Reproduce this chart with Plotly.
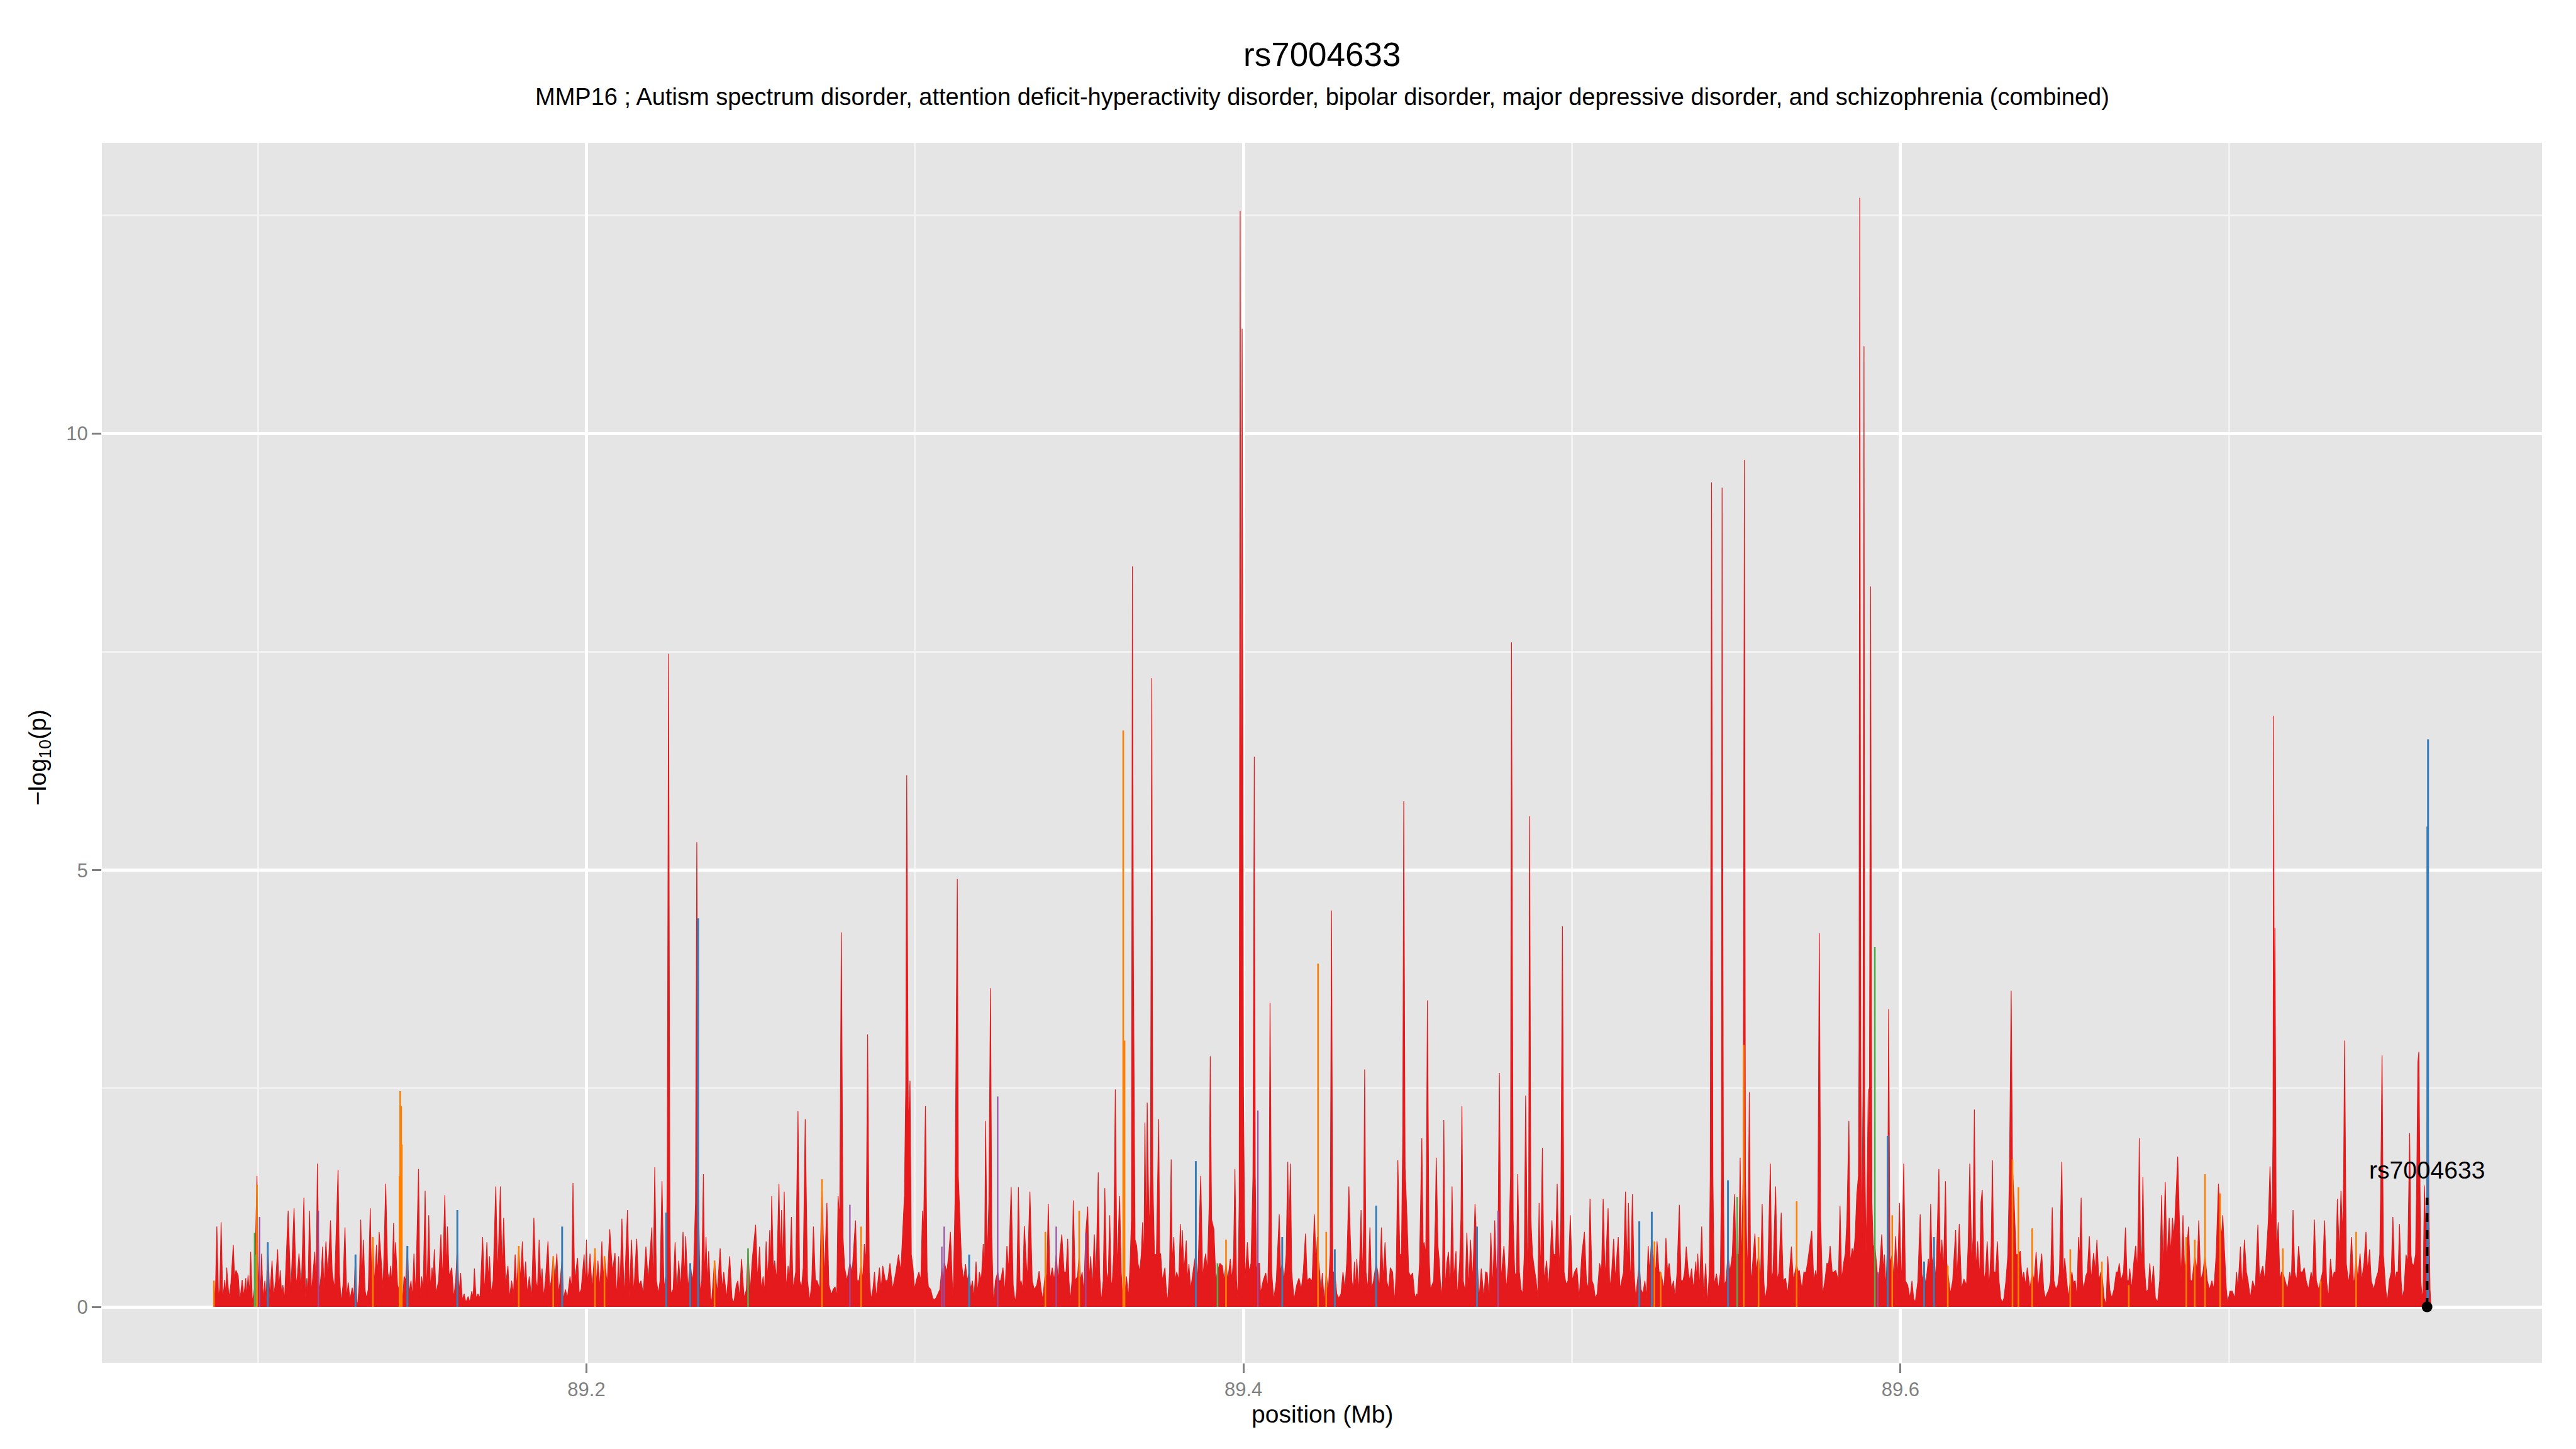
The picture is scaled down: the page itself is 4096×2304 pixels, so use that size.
import plotly.graph_objects as go

# ---------------- data ----------------
TITLE = "rs7004633"
SUBTITLE = ("MMP16 ; Autism spectrum disorder, attention deficit-hyperactivity disorder, "
            "bipolar disorder, major depressive disorder, and schizophrenia (combined)")
X_TICKS = [89.2, 89.4, 89.6]
X_TICK_LABELS = ["89.2", "89.4", "89.6"]
Y_TICKS = [0, 5, 10]
Y_TICK_LABELS = ["0", "5", "10"]

# main (red) track: (position Mb, -log10 p)
red_a = [(89.0866,0.30),(89.0870,0.05),(89.0875,0.92),(89.0880,0.10),(89.0884,0.22),(89.0888,0.97),
(89.0893,0.08),(89.0899,0.31),(89.0902,0.12),(89.0905,0.45),(89.0912,0.10),(89.0918,0.28),(89.0925,0.71),
(89.0929,0.32),(89.0933,0.42),(89.0940,0.36),(89.0945,0.06),(89.0952,0.31),(89.0957,0.12),(89.0963,0.33),
(89.0966,0.12),(89.0970,0.36),(89.0974,0.15),(89.0978,0.63),(89.0983,0.05),(89.0990,0.22),(89.0997,1.50),
(89.1001,0.18),(89.1005,0.55),(89.1008,0.12),(89.1011,0.61),(89.1016,0.08),(89.1021,0.30),(89.1025,0.08),
(89.1030,0.74),(89.1036,0.10),(89.1043,0.53),(89.1048,0.12),(89.1054,0.30),(89.1060,0.66),(89.1064,0.20),
(89.1068,0.42),(89.1072,0.15),(89.1076,0.25),(89.1081,0.08),(89.1092,1.10),(89.1100,0.15),(89.1110,1.13),
(89.1116,0.25),(89.1120,0.35),(89.1125,0.61),(89.1132,0.20),(89.1140,1.25),(89.1145,0.10),(89.1149,0.33),
(89.1152,0.10),(89.1157,1.10),(89.1163,0.15),(89.1168,0.40),(89.1173,0.63),(89.1177,0.20),(89.1181,1.64),
(89.1187,0.15),(89.1193,0.40),(89.1197,0.69),(89.1201,0.20),(89.1207,0.75),(89.1213,0.35),(89.1221,0.99),
(89.1226,0.40),(89.1233,0.20),(89.1238,0.80),(89.1244,1.57),(89.1248,0.40),(89.1253,0.05),(89.1259,0.25),
(89.1265,0.91),(89.1270,0.10),(89.1275,0.28),(89.1280,0.08),(89.1287,0.22),(89.1292,0.10),(89.1297,0.60),
(89.1301,0.05),(89.1304,0.04),(89.1309,0.30),(89.1313,1.00),(89.1317,0.30),(89.1321,0.77),(89.1326,0.20),
(89.1330,0.10),(89.1336,0.20),(89.1342,1.13),(89.1346,0.30),(89.1350,0.80),(89.1355,0.25),(89.1361,0.71),
(89.1365,0.35),(89.1369,0.86),(89.1375,0.55),(89.1381,0.20),(89.1389,1.41),(89.1395,0.40),(89.1400,0.30),
(89.1404,0.47),(89.1408,0.25),(89.1413,0.96),(89.1416,0.45),(89.1419,0.74),(89.1425,0.25),(89.1429,0.20),
(89.1433,0.10),(89.1440,0.05),(89.1445,0.35),(89.1450,0.30),(89.1455,0.70),(89.1460,0.15),(89.1466,0.30),
(89.1470,0.10),(89.1475,0.61),(89.1480,0.12),(89.1489,1.58),(89.1493,0.10),(89.1498,0.35),(89.1503,0.20),
(89.1509,1.33),(89.1514,0.10),(89.1520,1.05),(89.1525,0.20),(89.1530,0.45),(89.1533,0.30),(89.1537,0.66),
(89.1542,0.15),(89.1550,0.30),(89.1557,0.83),(89.1562,0.30),(89.1569,1.28),(89.1573,0.40),(89.1577,0.92),
(89.1582,0.35),(89.1590,0.45),(89.1596,0.10),(89.1602,0.30),(89.1607,0.70),(89.1612,0.15),(89.1617,0.39),
(89.1622,0.08),(89.1628,0.15),(89.1633,0.05),(89.1640,0.12),(89.1645,0.05),(89.1651,0.18),(89.1655,0.10),
(89.1659,0.44),(89.1664,0.10),(89.1670,0.15),(89.1676,0.10),(89.1684,0.80),(89.1690,0.15),(89.1697,0.74),
(89.1701,0.30),(89.1705,0.58),(89.1710,0.15),(89.1716,0.30),(89.1724,1.38),(89.1730,0.35),(89.1738,1.38),
(89.1743,0.40),(89.1748,1.02),(89.1754,0.25),(89.1761,0.47),(89.1766,0.10),(89.1772,0.30),(89.1778,0.15),
(89.1783,0.60),(89.1788,0.20),(89.1794,0.70),(89.1799,0.30),(89.1805,0.75),(89.1810,0.25),(89.1815,0.52),
(89.1820,0.15),(89.1826,0.35),(89.1833,0.10),(89.1840,1.02),(89.1846,0.30),(89.1851,0.20),(89.1856,0.77),
(89.1861,0.25),(89.1865,0.44),(89.1870,0.10),(89.1876,0.35),(89.1883,0.75),(89.1888,0.20),(89.1893,0.30),
(89.1899,0.58),(89.1904,0.30),(89.1910,0.61),(89.1915,0.15),(89.1920,0.30),(89.1926,0.55),(89.1930,0.08),
(89.1936,0.20),(89.1942,0.10),(89.1950,0.35),(89.1955,0.20),(89.1959,1.42),(89.1964,0.30)]

red_b = [(89.1973,0.56),(89.1978,0.15),(89.1984,0.20),(89.1993,0.60),(89.1996,0.20),(89.2000,0.77),
(89.2004,0.25),(89.2011,0.61),(89.2017,0.20),(89.2026,0.67),(89.2031,0.25),(89.2035,0.53),(89.2041,0.20),
(89.2047,0.75),(89.2051,0.30),(89.2055,0.58),(89.2063,0.25),(89.2071,0.89),(89.2079,0.40),(89.2087,0.62),
(89.2092,0.10),(89.2098,0.58),(89.2102,0.20),(89.2108,1.01),(89.2115,0.10),(89.2125,1.11),(89.2131,0.10),
(89.2137,0.77),(89.2144,0.15),(89.2153,0.78),(89.2159,0.25),(89.2166,0.30),(89.2173,0.15),(89.2181,0.69),
(89.2188,0.30),(89.2199,0.91),(89.2203,0.20),(89.2208,1.60),(89.2213,0.30),(89.2219,0.15),(89.2224,0.30),
(89.2230,1.44),(89.2236,0.20),(89.2243,0.40),(89.2246,1.50),(89.2250,7.48),(89.2254,1.00),(89.2257,0.15),
(89.2264,0.20),(89.2270,0.74),(89.2275,0.15),(89.2281,0.53),(89.2287,0.20),(89.2294,0.86),(89.2299,0.30),
(89.2302,0.81),(89.2309,0.20),(89.2316,0.50),(89.2322,0.30),(89.2326,0.40),(89.2332,1.20),(89.2336,5.32),
(89.2340,1.50),(89.2346,0.15),(89.2351,0.30),(89.2356,1.52),(89.2360,0.30),(89.2364,0.80),(89.2368,0.25),
(89.2372,0.64),(89.2378,0.10),(89.2381,0.05),(89.2386,0.30),(89.2390,0.53),(89.2398,0.15),(89.2407,0.67),
(89.2413,0.20),(89.2418,0.40),(89.2427,0.10),(89.2436,0.58),(89.2443,0.10),(89.2449,0.05),(89.2456,0.25),
(89.2461,0.30),(89.2466,0.10),(89.2472,0.55),(89.2480,0.10),(89.2487,0.20),(89.2492,0.67),(89.2498,0.15),
(89.2505,0.55),(89.2515,0.94),(89.2521,0.30),(89.2527,0.69),(89.2532,0.20),(89.2538,0.35),(89.2542,0.15),
(89.2547,0.75),(89.2552,0.30),(89.2558,0.88),(89.2561,0.40),(89.2564,1.27),(89.2569,0.40),(89.2573,0.53),
(89.2579,0.30),(89.2586,1.41),(89.2590,0.50),(89.2594,1.11),(89.2598,0.45),(89.2602,1.32),(89.2608,0.20),
(89.2614,0.47),(89.2618,0.30),(89.2624,1.03),(89.2629,0.20),(89.2637,0.40),(89.2644,2.24),(89.2649,0.30),
(89.2655,0.23),(89.2660,0.45),(89.2666,2.15),(89.2673,0.30),(89.2680,0.06),(89.2686,0.30),(89.2691,0.92),
(89.2697,0.30),(89.2702,0.30),(89.2710,0.20),(89.2717,1.46),(89.2724,0.30),(89.2732,1.19),(89.2738,0.25),
(89.2746,0.14),(89.2751,0.20),(89.2757,0.23),(89.2762,0.10),(89.2766,1.27),(89.2771,1.00),(89.2776,4.29),
(89.2781,0.80),(89.2786,0.45),(89.2793,0.30),(89.2802,0.50),(89.2809,0.40),(89.2819,0.99),(89.2824,0.30),
(89.2830,0.30),(89.2836,0.50),(89.2841,0.30),(89.2846,0.72),(89.2851,0.50),(89.2856,3.12),(89.2861,0.40),
(89.2866,0.08),(89.2872,0.20),(89.2877,0.40),(89.2882,0.10),(89.2888,0.30),(89.2892,0.45),(89.2897,0.20),
(89.2902,0.47),(89.2910,0.30),(89.2917,0.30),(89.2924,0.50),(89.2932,0.20),(89.2942,0.40),(89.2950,0.60),
(89.2957,0.40),(89.2968,1.27),(89.2972,2.50),(89.2975,6.09),(89.2980,2.00),(89.2985,2.59),(89.2989,0.60),
(89.2994,0.45),(89.2999,0.20),(89.3004,0.30),(89.3012,0.40),(89.3018,0.30),(89.3023,1.10),(89.3026,0.80),
(89.3032,2.30),(89.3037,0.40),(89.3041,0.23),(89.3048,0.20),(89.3054,0.10),(89.3059,0.08),(89.3064,0.10),
(89.3070,0.15),(89.3076,0.20),(89.3082,0.45),(89.3085,0.30),(89.3089,0.50)]

red_c = [(89.3090,0.50),(89.3097,0.40),(89.3103,0.60),(89.3108,0.86),(89.3112,0.40),(89.3116,0.05),
(89.3122,1.20),(89.3126,3.50),(89.3129,4.90),(89.3132,1.50),(89.3138,0.95),(89.3142,0.50),(89.3148,0.30),
(89.3154,0.49),(89.3159,0.30),(89.3165,0.40),(89.3170,0.20),(89.3175,0.30),(89.3180,0.10),(89.3186,0.52),
(89.3191,0.15),(89.3196,0.40),(89.3202,0.30),(89.3208,0.72),(89.3212,0.40),(89.3215,2.13),(89.3220,0.50),
(89.3225,1.20),(89.3230,3.65),(89.3234,0.80),(89.3239,0.02),(89.3245,0.30),(89.3252,0.40),(89.3256,0.30),
(89.3261,0.30),(89.3268,0.45),(89.3274,0.15),(89.3280,0.70),(89.3285,0.40),(89.3293,1.37),(89.3299,0.25),
(89.3305,0.05),(89.3310,0.20),(89.3315,1.37),(89.3320,0.25),(89.3323,0.30),(89.3328,0.20),(89.3333,0.93),
(89.3342,0.30),(89.3350,1.32),(89.3357,0.30),(89.3363,0.20),(89.3371,0.25),(89.3378,0.41),(89.3384,0.20),
(89.3389,0.08),(89.3397,0.40),(89.3401,0.30),(89.3406,1.18),(89.3411,0.30),(89.3418,0.45),(89.3424,0.30),
(89.3430,0.60),(89.3436,0.30),(89.3441,0.60),(89.3447,0.83),(89.3454,0.40),(89.3460,0.40),(89.3465,0.78),
(89.3469,0.30),(89.3473,0.06),(89.3478,0.30),(89.3482,1.22),(89.3488,0.30),(89.3495,0.35),(89.3500,0.60),
(89.3504,0.30),(89.3509,0.40),(89.3514,0.15),(89.3520,0.85),(89.3526,1.15),(89.3530,0.30),(89.3535,0.58),
(89.3540,0.20),(89.3546,0.83),(89.3551,0.30),(89.3558,1.54),(89.3562,0.40),(89.3567,0.05),(89.3573,0.30),
(89.3578,1.36),(89.3583,0.40),(89.3588,0.30),(89.3593,1.05),(89.3597,0.30),(89.3600,0.23),(89.3605,0.60),
(89.3610,2.49),(89.3615,0.40),(89.3623,1.27),(89.3628,0.40),(89.3632,0.10),(89.3634,0.10),(89.3638,0.10),
(89.3644,0.35),(89.3650,0.10),(89.3655,0.50),(89.3659,1.00),(89.3662,8.48),(89.3665,3.96),(89.3670,0.77),
(89.3675,0.70),(89.3679,0.50),(89.3684,0.40),(89.3689,0.60),(89.3693,0.97),(89.3697,0.50),(89.3700,2.11),
(89.3704,0.60),(89.3707,2.34),(89.3713,0.80),(89.3717,1.50),(89.3721,7.20),(89.3724,1.50),(89.3729,0.60),
(89.3735,0.60),(89.3742,2.15),(89.3745,0.60),(89.3748,0.61),(89.3753,0.30),(89.3761,0.45),(89.3765,0.20),
(89.3769,0.05),(89.3775,0.40),(89.3780,1.69),(89.3783,0.50),(89.3788,0.80),(89.3792,0.30),(89.3797,0.40),
(89.3803,0.30),(89.3808,0.95),(89.3812,0.50),(89.3814,0.88),(89.3819,0.40),(89.3826,0.76),(89.3830,0.30),
(89.3834,0.49),(89.3839,0.20),(89.3843,0.30),(89.3850,0.50),(89.3855,0.60),(89.3861,0.30),(89.3866,1.00),
(89.3870,1.50),(89.3876,0.30),(89.3880,0.50),(89.3885,0.61),(89.3890,0.40),(89.3896,1.20),(89.3899,2.87),
(89.3903,1.00),(89.3910,0.89),(89.3916,0.30),(89.3921,0.40),(89.3928,0.50),(89.3936,0.47),(89.3941,0.30),
(89.3947,0.50),(89.3952,0.30),(89.3960,0.55),(89.3965,0.30),(89.3970,0.60),(89.3974,1.58),(89.3979,0.30),
(89.3983,0.08),(89.3987,1.20),(89.3990,12.55),(89.3993,3.00),(89.3996,11.20),(89.4000,2.50),(89.4005,0.30),
(89.4012,0.74),(89.4017,0.40),(89.4023,0.50),(89.4029,1.50),(89.4033,6.30),(89.4036,1.50),(89.4040,0.40),
(89.4044,0.50),(89.4049,0.50),(89.4052,0.15),(89.4060,0.30),(89.4068,0.39),(89.4074,0.20),(89.4078,1.00),
(89.4081,3.48),(89.4086,0.40),(89.4092,0.08),(89.4100,0.30),(89.4109,1.06),(89.4113,0.40),(89.4118,0.50),
(89.4124,0.30),(89.4130,0.60),(89.4135,1.66),(89.4138,0.70),(89.4143,1.64),(89.4147,0.40),(89.4154,0.08),
(89.4162,0.25),(89.4169,0.33),(89.4176,0.20),(89.4182,0.40),(89.4189,0.84),(89.4194,0.30),(89.4201,0.33),
(89.4209,0.30),(89.4216,1.06),(89.4221,0.50),(89.4225,0.80)]

red_d = [(89.4227,0.60),(89.4232,0.40),(89.4236,0.15),(89.4240,0.39),(89.4246,0.05),(89.4252,0.40),
(89.4258,0.15),(89.4264,0.60),(89.4268,4.54),(89.4272,0.40),(89.4278,0.40),(89.4284,0.15),(89.4290,0.10),
(89.4297,0.15),(89.4303,0.40),(89.4309,0.20),(89.4315,0.55),(89.4321,1.38),(89.4325,0.83),(89.4330,0.30),
(89.4334,0.20),(89.4338,0.52),(89.4342,0.20),(89.4345,0.55),(89.4351,0.15),(89.4358,1.11),(89.4363,0.30),
(89.4366,1.00),(89.4369,2.72),(89.4373,0.40),(89.4379,0.20),(89.4385,0.91),(89.4390,0.20),(89.4396,0.30),
(89.4404,0.50),(89.4409,0.40),(89.4414,0.20),(89.4420,0.91),(89.4425,0.30),(89.4431,0.74),(89.4436,0.30),
(89.4442,0.20),(89.4447,0.45),(89.4454,0.40),(89.4460,0.05),(89.4465,0.40),(89.4470,1.68),(89.4476,0.60),
(89.4481,0.60),(89.4485,2.00),(89.4488,5.79),(89.4492,1.60),(89.4498,1.00),(89.4503,0.40),(89.4509,0.35),
(89.4515,0.39),(89.4522,0.10),(89.4527,0.15),(89.4530,0.12),(89.4536,0.50),(89.4543,1.93),(89.4547,0.70),
(89.4550,0.74),(89.4555,0.60),(89.4557,1.50),(89.4560,3.51),(89.4565,0.60),(89.4569,0.20),(89.4574,0.25),
(89.4579,0.30),(89.4584,1.00),(89.4587,1.71),(89.4592,0.70),(89.4596,0.53),(89.4602,0.10),(89.4606,0.30),
(89.4610,2.14),(89.4614,0.20),(89.4619,0.50),(89.4624,0.63),(89.4630,0.20),(89.4635,1.38),(89.4640,0.30),
(89.4647,0.64),(89.4651,0.10),(89.4658,0.50),(89.4662,1.00),(89.4665,2.30),(89.4669,0.30),(89.4675,0.17),
(89.4680,0.85),(89.4686,0.20),(89.4691,0.77),(89.4698,0.30),(89.4705,1.18),(89.4708,0.80),(89.4711,0.60),
(89.4717,0.08),(89.4724,0.44),(89.4732,0.10),(89.4737,0.40),(89.4742,0.39),(89.4748,0.10),(89.4753,0.85),
(89.4759,0.20),(89.4765,0.99),(89.4770,0.30),(89.4775,0.80),(89.4779,2.68),(89.4784,0.30),(89.4793,0.70),
(89.4800,0.20),(89.4807,0.50),(89.4813,1.50),(89.4816,7.61),(89.4821,1.00),(89.4826,0.35),(89.4831,0.40),
(89.4835,1.52),(89.4840,0.40),(89.4845,0.20),(89.4850,0.15),(89.4855,0.60),(89.4859,2.42),(89.4865,0.40),
(89.4868,0.80),(89.4871,5.62),(89.4875,1.00),(89.4880,0.60),(89.4884,0.48),(89.4891,0.30),(89.4896,0.10),
(89.4900,1.19),(89.4904,0.30),(89.4910,1.82),(89.4915,0.30),(89.4923,0.53),(89.4928,0.20),(89.4933,0.50),
(89.4939,0.99),(89.4944,0.60),(89.4950,0.60),(89.4955,1.41),(89.4961,0.40),(89.4966,1.00),(89.4971,4.36),
(89.4976,0.40),(89.4982,0.26),(89.4988,0.30),(89.4995,1.05),(89.5001,0.30),(89.5008,0.40),(89.5015,0.45),
(89.5022,0.10),(89.5030,0.60),(89.5038,0.86),(89.5044,0.30),(89.5050,0.20),(89.5055,1.24),(89.5061,0.30),
(89.5066,0.25),(89.5071,0.10),(89.5077,0.15),(89.5084,0.50),(89.5090,0.40),(89.5095,1.24),(89.5101,0.30),
(89.5105,0.70),(89.5110,1.13),(89.5115,0.20),(89.5121,0.40),(89.5127,0.78),(89.5132,0.30),(89.5137,0.60),
(89.5141,0.80),(89.5146,0.20),(89.5152,0.30),(89.5157,0.40),(89.5163,1.32),(89.5168,0.40),(89.5172,1.19),
(89.5178,0.20),(89.5184,1.29),(89.5189,0.40),(89.5194,0.10),(89.5199,0.30),(89.5205,0.50),(89.5210,0.20),
(89.5216,0.15),(89.5222,0.30),(89.5227,0.10),(89.5232,0.70),(89.5236,0.40),(89.5243,0.80),(89.5246,0.60),
(89.5251,0.50),(89.5255,0.40),(89.5259,0.75),(89.5265,0.40),(89.5270,0.40),(89.5275,0.30),(89.5281,0.20),
(89.5286,0.79),(89.5291,0.40),(89.5296,0.50),(89.5303,0.20),(89.5309,0.30),(89.5314,0.10),(89.5320,0.40),
(89.5327,1.17),(89.5332,0.30),(89.5338,0.30),(89.5343,0.40),(89.5348,0.69),(89.5354,0.40)]

red_e = [(89.5359,0.30),(89.5364,0.44),(89.5370,0.20),(89.5377,0.52),(89.5380,0.30),(89.5383,0.61),
(89.5388,0.20),(89.5395,0.92),(89.5401,0.10),(89.5407,0.50),(89.5413,0.02),(89.5418,0.40),(89.5421,1.50),
(89.5425,9.44),(89.5429,1.50),(89.5433,0.25),(89.5440,0.38),(89.5446,0.20),(89.5452,0.40),(89.5455,1.50),
(89.5457,9.38),(89.5461,1.50),(89.5464,0.25),(89.5469,0.30),(89.5475,0.60),(89.5481,0.40),(89.5488,0.60),
(89.5495,1.29),(89.5499,0.60),(89.5503,0.60),(89.5508,0.60),(89.5512,1.71),(89.5516,0.40),(89.5521,1.50),
(89.5525,9.70),(89.5528,1.50),(89.5534,0.30),(89.5536,0.80),(89.5540,2.46),(89.5544,0.30),(89.5548,0.40),
(89.5552,0.60),(89.5557,0.84),(89.5561,0.40),(89.5568,0.60),(89.5574,0.30),(89.5579,1.18),(89.5584,0.30),
(89.5588,0.08),(89.5595,0.25),(89.5604,1.64),(89.5608,0.30),(89.5612,0.40),(89.5620,1.38),(89.5625,0.30),
(89.5630,0.40),(89.5637,1.08),(89.5643,0.30),(89.5650,0.33),(89.5657,0.15),(89.5668,0.69),(89.5674,0.30),
(89.5679,0.40),(89.5684,0.50),(89.5688,0.40),(89.5692,0.42),(89.5700,0.20),(89.5706,0.40),(89.5712,0.39),
(89.5717,0.50),(89.5723,0.67),(89.5730,0.87),(89.5736,0.30),(89.5742,0.42),(89.5746,0.30),(89.5749,1.30),
(89.5753,4.28),(89.5757,1.00),(89.5763,0.14),(89.5770,0.30),(89.5776,0.50),(89.5781,0.49),(89.5786,0.70),
(89.5792,0.40),(89.5797,0.40),(89.5803,0.42),(89.5811,0.30),(89.5816,1.16),(89.5821,0.30),(89.5827,0.50),
(89.5832,0.61),(89.5837,1.00),(89.5843,2.13),(89.5847,0.50),(89.5853,0.67),(89.5857,0.60),(89.5862,0.80),
(89.5867,1.28),(89.5872,1.50),(89.5874,3.00),(89.5876,12.70),(89.5879,3.00),(89.5882,0.60),(89.5886,2.50),
(89.5889,11.00),(89.5891,2.00),(89.5895,0.60),(89.5898,1.24),(89.5902,2.50),(89.5905,1.30),(89.5909,8.25),
(89.5913,1.20),(89.5917,0.70),(89.5922,0.70),(89.5927,0.50),(89.5931,0.30),(89.5936,0.40),(89.5943,0.83),
(89.5948,0.40),(89.5951,0.60),(89.5956,0.20),(89.5961,0.80),(89.5964,3.41),(89.5968,0.50),(89.5975,0.60),
(89.5980,0.30),(89.5985,0.81),(89.5991,0.30),(89.5997,1.19),(89.6003,0.20),(89.6010,1.64),(89.6015,0.30),
(89.6022,0.25),(89.6029,0.10),(89.6035,0.30),(89.6040,0.10),(89.6045,0.05),(89.6053,0.30),(89.6060,1.06),
(89.6066,0.30),(89.6072,0.40),(89.6077,0.25),(89.6085,0.55),(89.6088,0.40),(89.6092,1.18),(89.6096,0.50),
(89.6102,0.60),(89.6108,0.30),(89.6117,1.58),(89.6121,0.50),(89.6126,0.77),(89.6131,0.40),(89.6137,1.44),
(89.6141,0.50),(89.6144,0.40),(89.6152,0.15),(89.6159,0.30),(89.6168,0.88),(89.6172,0.30),(89.6179,0.95),
(89.6186,0.20),(89.6193,0.32),(89.6201,0.25),(89.6206,0.70),(89.6211,1.64),(89.6217,0.50),(89.6221,0.80),
(89.6225,2.26),(89.6229,0.40),(89.6235,0.75),(89.6241,0.30),(89.6245,1.20),(89.6249,1.34),(89.6254,0.30),
(89.6259,0.40),(89.6264,0.75),(89.6270,0.20),(89.6276,0.70),(89.6280,1.68),(89.6284,0.40),(89.6290,0.40),
(89.6295,0.75),(89.6300,0.30),(89.6305,0.10),(89.6310,0.05),(89.6315,0.10),(89.6321,0.30),(89.6327,0.60),
(89.6332,1.60),(89.6337,3.62),(89.6341,1.60),(89.6346,1.20),(89.6352,0.60),(89.6359,0.60),(89.6365,0.64),
(89.6370,0.30),(89.6375,0.40),(89.6381,0.25),(89.6386,0.45),(89.6394,0.20),(89.6401,0.40),(89.6407,0.30),
(89.6413,0.63),(89.6419,0.20),(89.6424,0.40),(89.6430,0.61),(89.6436,0.20),(89.6441,0.10),(89.6446,0.15),
(89.6452,0.20),(89.6457,0.30),(89.6462,1.14),(89.6467,0.30),(89.6473,0.20),(89.6479,0.25)]

red_f = [(89.6484,0.40),(89.6491,1.66),(89.6496,0.30),(89.6500,0.56),(89.6506,0.30),(89.6511,0.10),
(89.6517,0.30),(89.6522,0.40),(89.6526,0.28),(89.6532,0.30),(89.6537,0.10),(89.6542,0.80),(89.6545,0.50),
(89.6550,1.25),(89.6554,0.30),(89.6558,0.20),(89.6564,0.35),(89.6569,0.40),(89.6575,0.81),(89.6580,0.30),
(89.6588,0.62),(89.6593,0.40),(89.6598,0.77),(89.6604,0.30),(89.6610,0.40),(89.6613,0.40),(89.6620,0.10),
(89.6626,0.02),(89.6631,0.58),(89.6637,0.20),(89.6643,0.10),(89.6650,0.20),(89.6657,0.40),(89.6662,0.40),
(89.6666,0.50),(89.6671,0.30),(89.6679,0.40),(89.6685,0.91),(89.6690,0.30),(89.6695,0.30),(89.6698,0.44),
(89.6704,0.20),(89.6710,0.50),(89.6716,0.70),(89.6721,0.40),(89.6725,1.20),(89.6727,1.93),(89.6731,0.50),
(89.6735,0.70),(89.6738,1.49),(89.6742,0.50),(89.6748,0.17),(89.6754,0.20),(89.6759,0.50),(89.6764,0.20),
(89.6770,0.47),(89.6776,0.10),(89.6783,0.06),(89.6789,0.30),(89.6795,1.28),(89.6799,0.40),(89.6806,1.43),
(89.6811,0.50),(89.6818,1.02),(89.6823,0.60),(89.6828,1.02),(89.6833,0.80),(89.6839,1.30),(89.6844,1.72),
(89.6849,1.00),(89.6854,0.30),(89.6860,1.05),(89.6865,0.40),(89.6870,0.60),(89.6877,0.92),(89.6883,0.30),
(89.6888,0.30),(89.6896,0.60),(89.6903,0.40),(89.6908,0.99),(89.6914,0.30),(89.6921,0.40),(89.6927,0.60),
(89.6934,0.30),(89.6941,0.20),(89.6948,0.30),(89.6954,0.20),(89.6961,0.60),(89.6968,1.41),(89.6973,1.00),
(89.6978,0.80),(89.6981,1.05),(89.6987,0.60),(89.6992,0.20),(89.6996,0.05),(89.7003,0.18),(89.7010,0.18),
(89.7018,0.10),(89.7023,0.40),(89.7027,0.20),(89.7035,0.69),(89.7040,0.20),(89.7047,0.77),(89.7053,0.40),
(89.7058,0.30),(89.7065,0.10),(89.7072,0.30),(89.7080,0.20),(89.7088,0.94),(89.7093,0.30),(89.7098,0.40),
(89.7103,0.47),(89.7109,0.30),(89.7114,0.60),(89.7120,1.00),(89.7125,1.61),(89.7129,0.90),(89.7132,1.20),
(89.7134,2.00),(89.7136,6.77),(89.7138,2.00),(89.7140,4.34),(89.7144,0.60),(89.7150,0.97),(89.7155,0.30),
(89.7160,0.40),(89.7164,0.40),(89.7171,0.30),(89.7178,0.20),(89.7185,0.40),(89.7190,0.30),(89.7195,1.11),
(89.7200,0.40),(89.7206,0.30),(89.7212,0.70),(89.7218,0.40),(89.7224,0.40),(89.7229,0.45),(89.7235,0.30),
(89.7242,0.20),(89.7250,0.40),(89.7255,0.30),(89.7260,1.00),(89.7266,0.30),(89.7273,0.20),(89.7279,0.30),
(89.7285,0.40),(89.7291,0.99),(89.7297,0.30),(89.7303,0.10),(89.7309,0.55),(89.7315,0.30),(89.7320,0.40),
(89.7325,0.40),(89.7330,1.24),(89.7336,0.60),(89.7341,1.33),(89.7346,0.80),(89.7349,1.50),(89.7352,3.05),
(89.7357,0.50),(89.7364,0.27),(89.7368,0.40),(89.7373,0.80),(89.7379,0.30),(89.7382,0.30),(89.7387,0.60),
(89.7392,0.30),(89.7399,0.61),(89.7404,0.30),(89.7411,0.50),(89.7417,0.86),(89.7422,0.40),(89.7428,0.66),
(89.7433,0.30),(89.7441,0.20),(89.7448,0.33),(89.7454,0.40),(89.7459,0.60),(89.7462,1.40),(89.7466,2.88),
(89.7470,0.60),(89.7477,0.21),(89.7482,0.05),(89.7488,0.30),(89.7494,0.40),(89.7499,1.03),(89.7505,0.30),
(89.7510,0.40),(89.7515,0.40),(89.7519,0.95),(89.7524,0.30),(89.7528,0.10),(89.7533,0.20),(89.7539,0.60),
(89.7544,0.50),(89.7548,1.50),(89.7550,1.99),(89.7554,0.60),(89.7557,0.50),(89.7562,0.47),(89.7568,0.60),
(89.7572,1.60),(89.7575,2.80),(89.7578,2.92),(89.7581,1.50),(89.7584,0.30),(89.7588,0.10),(89.7591,0.20),
(89.7595,1.39),(89.7599,0.80),(89.7602,1.20),(89.7605,3.70),(89.7608,1.30),(89.7612,0.20),(89.7615,0.00)]

# other tracks (thin spikes): (position Mb, -log10 p)
orange_spikes = [(89.0866,0.30),(89.0997,1.40),(89.1431,1.50),(89.1433,2.47),(89.1436,2.30),(89.1438,1.86),
(89.1350,0.80),(89.1794,0.70),(89.1899,0.58),(89.2026,0.67),(89.2055,0.58),(89.2390,0.53),(89.2717,1.46),
(89.2836,0.92),(89.3397,0.86),(89.3500,1.10),(89.3634,6.60),(89.3638,3.05),(89.3947,0.77),(89.4227,3.93),
(89.4252,0.86),(89.5251,0.75),(89.5270,0.40),(89.5523,3.00),(89.5568,0.80),(89.5684,1.21),(89.5975,1.05),
(89.6144,0.47),(89.6341,1.69),(89.6359,1.37),(89.6401,0.90),(89.6517,0.66),(89.6613,0.52),(89.6695,0.25),
(89.6870,0.80),(89.6896,0.77),(89.6927,1.52),(89.6973,1.30),(89.7164,0.67),(89.7279,0.30),(89.7387,0.86)]
blue_spikes = [(89.1030,0.74),(89.1297,0.60),(89.1455,0.70),(89.1607,1.11),(89.1926,0.92),(89.2243,1.08),
(89.2316,0.50),(89.2340,4.45),(89.3165,0.60),(89.3855,1.67),(89.4118,0.80),(89.4278,0.66),(89.4404,1.16),
(89.4711,0.92),(89.5205,0.98),(89.5243,1.09),(89.5475,1.45),(89.5961,1.96),(89.6072,0.52),(89.6102,0.80),
(89.7604,5.50),(89.7606,6.50)]
green_spikes = [(89.0990,0.85),(89.0993,0.60),(89.2492,0.67),(89.3921,0.50),(89.5503,1.26),(89.5922,4.12)]
purple_spikes = [(89.1005,1.03),(89.1184,1.10),(89.2802,1.17),(89.3082,0.69),(89.3089,0.92),(89.3252,2.41),
(89.3430,0.92),(89.3520,0.85),(89.4044,2.25),(89.4775,1.10),(89.5931,0.40)]

index_snp = "rs7004633"
index_pos = 89.7603
index_logp = 0.0
index_line_top = 1.25
index_label_y = 1.57

X_RANGE = [89.0525, 89.7953]
Y_RANGE = [-0.64, 13.33]

# ---------------- figure ----------------
FONT = "Liberation Sans, Arial, Helvetica, sans-serif"
RED, ORANGE, BLUE, GREEN, PURPLE = "#E41A1C", "#FF7F00", "#377EB8", "#4DAF4A", "#984EA3"

fig = go.Figure()

red_points = red_a + red_b + red_c + red_d + red_e + red_f
fig.add_trace(go.Scatter(
    x=[p for p, v in red_points], y=[v for p, v in red_points],
    mode="lines", fill="tozeroy", fillcolor=RED,
    line=dict(color=RED, width=1.2), hoverinfo="skip", showlegend=False))

def spikes(points, color, width):
    xs, ys = [], []
    for p, v in points:
        xs += [p, p, None]
        ys += [0, v, None]
    fig.add_trace(go.Scatter(x=xs, y=ys, mode="lines",
                             line=dict(color=color, width=width),
                             hoverinfo="skip", showlegend=False))

spikes(green_spikes, GREEN, 2.6)
spikes(purple_spikes, PURPLE, 2.2)
spikes(orange_spikes, ORANGE, 2.6)
spikes(blue_spikes, BLUE, 3.0)

# index SNP: dashed stem, point and label
fig.add_trace(go.Scatter(x=[index_pos, index_pos], y=[index_logp, index_line_top], mode="lines",
                         line=dict(color="black", width=4.5, dash="14px,13px"),
                         hoverinfo="skip", showlegend=False))
fig.add_trace(go.Scatter(x=[index_pos], y=[index_logp], mode="markers",
                         marker=dict(color="black", size=17),
                         hoverinfo="skip", showlegend=False))
fig.add_annotation(x=index_pos, y=index_label_y, xref="x", yref="y", text=index_snp,
                   showarrow=False, xanchor="center", yanchor="middle",
                   font=dict(family=FONT, size=39, color="black"))

# page has an 8px body margin: size the figure so that it fits the 4096x2304 window
OFF = 8
W, H = 4096 - 2 * OFF, 2304 - 2 * OFF
PL, PR, PT, PB = 162, 4042, 227, 2167          # wanted panel edges in window pixels
L, T = PL - OFF, PT - OFF
R, B = (OFF + W) - PR, (OFF + H) - PB
plot_w, plot_h = PR - PL, PB - PT

def px(x_abs):
    return (x_abs - PL) / plot_w

def py(y_abs):
    return (PB - y_abs) / plot_h

fig.add_annotation(x=0.5, y=py(86), xref="paper", yref="paper", text=TITLE,
                   showarrow=False, xanchor="center", yanchor="middle",
                   font=dict(family=FONT, size=53, color="black"))
fig.add_annotation(x=0.5, y=py(154), xref="paper", yref="paper", text=SUBTITLE,
                   showarrow=False, xanchor="center", yanchor="middle",
                   font=dict(family=FONT, size=38, color="black"))
fig.add_annotation(x=0.5, y=py(2248), xref="paper", yref="paper", text="position (Mb)",
                   showarrow=False, xanchor="center", yanchor="middle",
                   font=dict(family=FONT, size=39, color="black"))
fig.add_annotation(x=px(62), y=py(1205), xref="paper", yref="paper",
                   text="−log<sub>10</sub>(p)", textangle=-90,
                   showarrow=False, xanchor="center", yanchor="middle",
                   font=dict(family=FONT, size=39, color="black"))

fig.update_layout(
    width=W, height=H,
    margin=dict(l=L, r=R, t=T, b=B, pad=0),
    paper_bgcolor="white", plot_bgcolor="#E5E5E5",
    showlegend=False,
    font=dict(family=FONT),
)
fig.update_xaxes(
    range=X_RANGE, tickmode="array", tickvals=X_TICKS, ticktext=X_TICK_LABELS,
    showgrid=True, gridcolor="white", gridwidth=5,
    minor=dict(tickmode="array", tickvals=[89.1, 89.3, 89.5, 89.7], showgrid=True,
               gridcolor="#F2F2F2", gridwidth=2.5, ticks=""),
    ticks="outside", ticklen=15, tickwidth=2.5, tickcolor="#7F7F7F",
    tickfont=dict(family=FONT, size=31, color="#7F7F7F"),
    zeroline=False, showline=False,
)
fig.update_yaxes(
    range=Y_RANGE, tickmode="array", tickvals=Y_TICKS, ticktext=Y_TICK_LABELS,
    showgrid=True, gridcolor="white", gridwidth=5,
    minor=dict(tickmode="array", tickvals=[2.5, 7.5, 12.5], showgrid=True,
               gridcolor="#F2F2F2", gridwidth=2.5, ticks=""),
    ticks="outside", ticklen=15, tickwidth=2.5, tickcolor="#7F7F7F",
    tickfont=dict(family=FONT, size=31, color="#7F7F7F"),
    zeroline=False, showline=False,
)

fig.write_html("out.html")
